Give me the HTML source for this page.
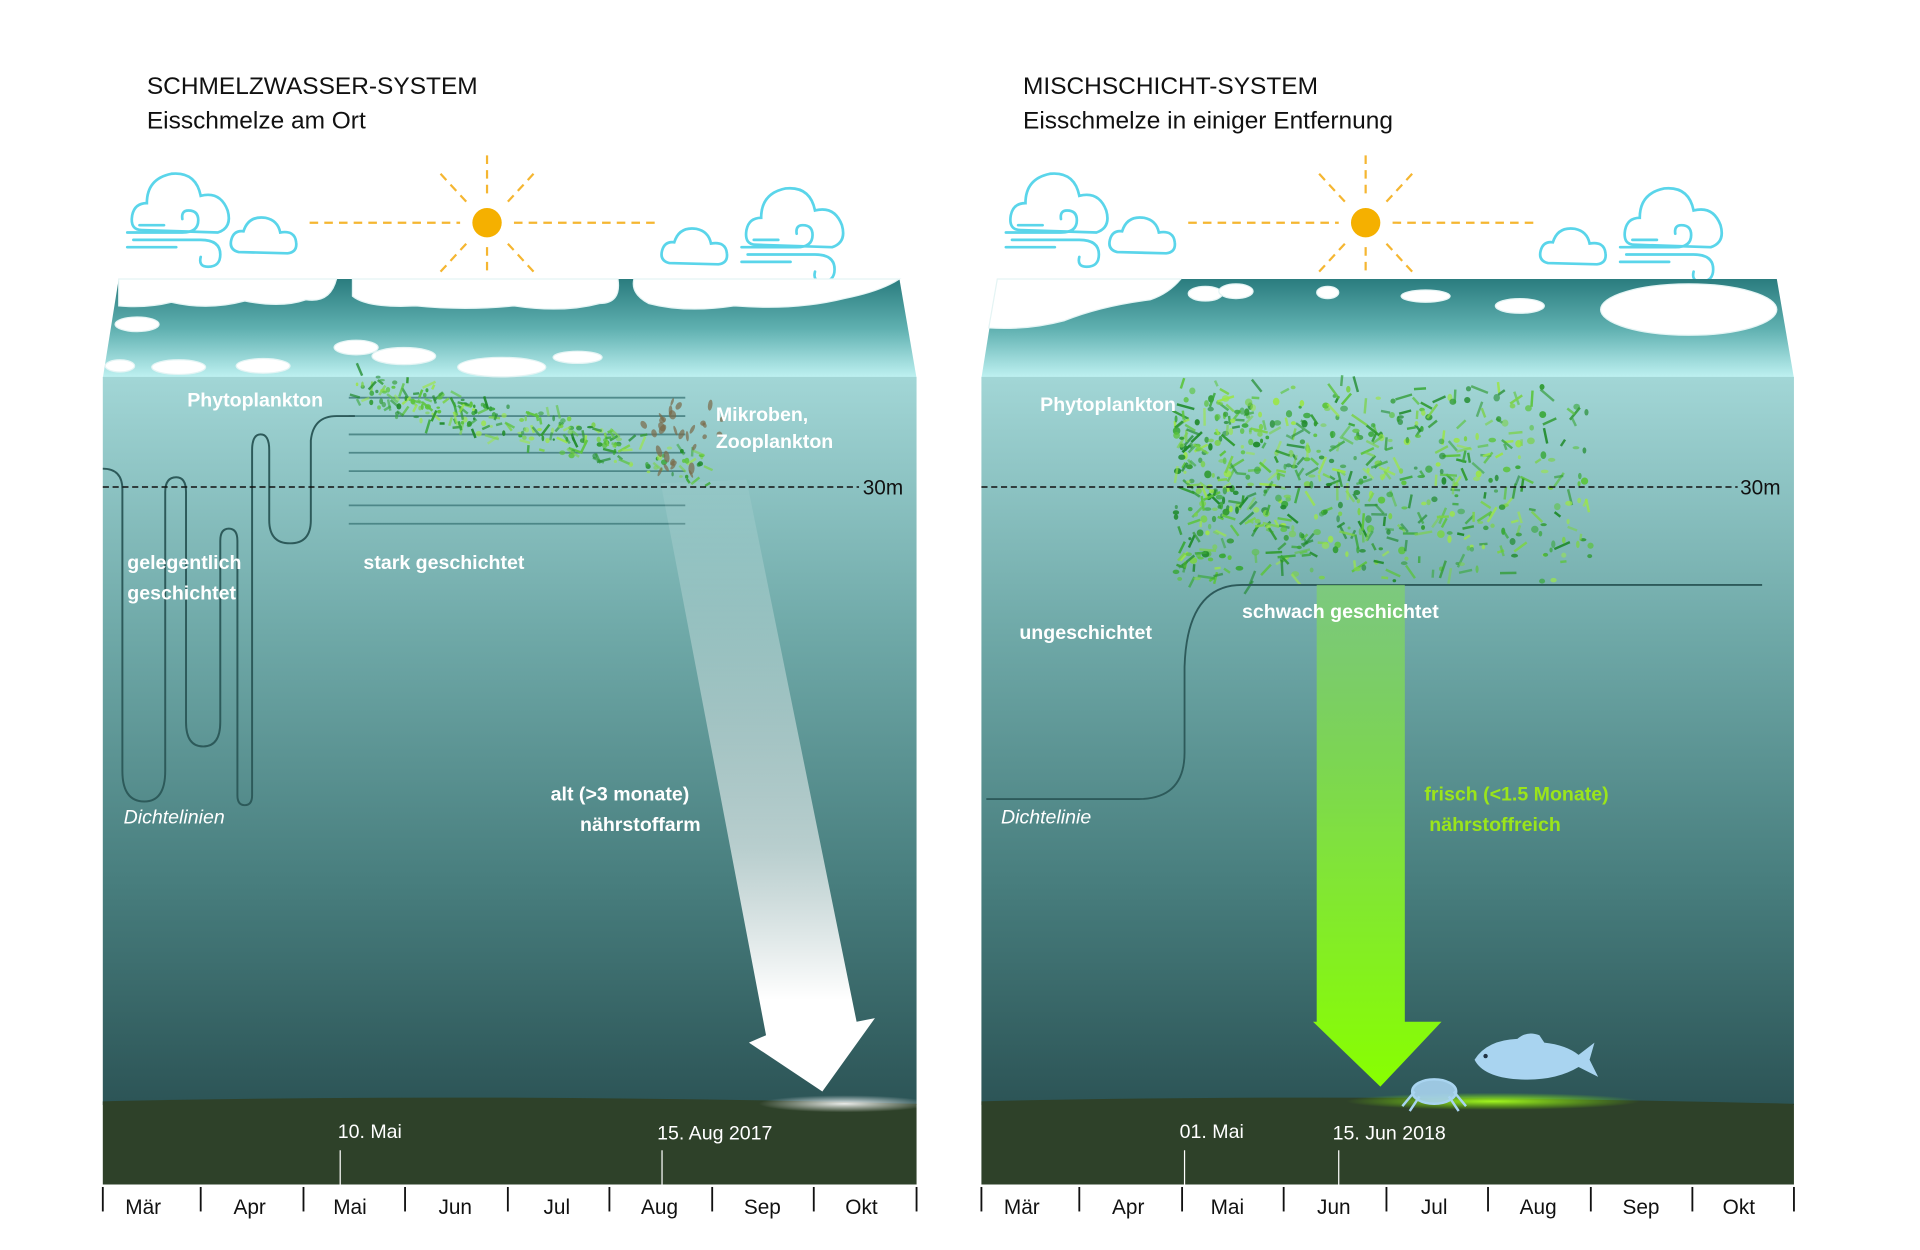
<!DOCTYPE html>
<html><head><meta charset="utf-8"><style>
html,body{margin:0;padding:0;background:#fff;}
svg{display:block;}
text{font-family:"Liberation Sans",sans-serif;}
.lb{fill:#fff;font-weight:bold;font-size:16px;}
.tt{fill:#111;font-size:20px;}
.mo{fill:#111;font-size:17px;text-anchor:middle;}
.dt{fill:#fff;font-size:16px;}
</style></head><body>
<svg width="1920" height="1250" viewBox="0 0 1569 1021.5" xmlns="http://www.w3.org/2000/svg">
<defs>
<linearGradient id="water" x1="0" y1="0" x2="0" y2="1">
<stop offset="0" stop-color="#a2d6d6"/><stop offset="0.35" stop-color="#6fa9a8"/><stop offset="0.7" stop-color="#477d7d"/><stop offset="1" stop-color="#2c5456"/></linearGradient>
<linearGradient id="surf" x1="0" y1="0" x2="0" y2="1">
<stop offset="0" stop-color="#2a7c7e"/><stop offset="0.5" stop-color="#5fb0b0"/><stop offset="1" stop-color="#c0f2f2"/></linearGradient>
<linearGradient id="warr" x1="0" y1="0" x2="0" y2="1">
<stop offset="0" stop-color="#fff" stop-opacity="0.05"/><stop offset="0.6" stop-color="#fff" stop-opacity="0.6"/><stop offset="0.85" stop-color="#fff" stop-opacity="1"/></linearGradient>
<linearGradient id="garr" x1="0" y1="0" x2="0" y2="1">
<stop offset="0" stop-color="#7fd36a" stop-opacity="0.7"/><stop offset="0.5" stop-color="#80e040"/><stop offset="1" stop-color="#88ff00"/></linearGradient>
<radialGradient id="wglow" cx="0.5" cy="0.5" r="0.5"><stop offset="0" stop-color="#fff" stop-opacity="0.9"/><stop offset="1" stop-color="#fff" stop-opacity="0"/></radialGradient>
<radialGradient id="gglow" cx="0.5" cy="0.5" r="0.5"><stop offset="0" stop-color="#a8ff20" stop-opacity="0.95"/><stop offset="1" stop-color="#88ff00" stop-opacity="0"/></radialGradient>
<g id="cloudA">
<path d="M10,50 Q0,50 2,38 Q4,28 14,28 Q14,8 34,4 Q54,2 58,22 Q74,18 80,34 Q84,48 72,52 Z" fill="#fff" stroke="#5ad5ea" stroke-width="2.2"/>
</g>
<g id="cloudB">
<path d="M8,32 Q0,30 2,22 Q4,14 12,15 Q16,2 30,4 Q40,6 42,16 Q54,14 55,24 Q56,32 48,33 Z" fill="#fff" stroke="#5ad5ea" stroke-width="2.2"/>
</g>
<g id="wind" fill="none" stroke="#5ad5ea" stroke-width="2.2" stroke-linecap="round">
<path d="M0,0 H45 Q58,0 58,-10 Q58,-18 50,-18 Q44,-18 45,-11"/>
<path d="M5,6 H60 Q76,6 76,18 Q76,28 66,28 Q58,28 60,20"/>
<path d="M0,12 H40"/><path d="M10,-6 H30"/>
</g>
<g id="sun">
<g stroke="#f5b631" stroke-width="1.8" stroke-dasharray="7,5">
<line x1="-145" y1="0" x2="-22" y2="0"/><line x1="22" y1="0" x2="140" y2="0"/>
<line x1="0" y1="-55" x2="0" y2="-20"/><line x1="0" y1="20" x2="0" y2="42"/>
<line x1="-38" y1="-40" x2="-15" y2="-15"/><line x1="38" y1="-40" x2="15" y2="-15"/>
<line x1="-38" y1="40" x2="-15" y2="15"/><line x1="38" y1="40" x2="15" y2="15"/>
</g>
<circle r="12" fill="#f5b000"/>
</g>
</defs>

<text class="tt" x="120" y="77">SCHMELZWASSER-SYSTEM</text>
<text class="tt" x="120" y="105">Eisschmelze am Ort</text>
<text class="tt" x="836" y="77">MISCHSCHICHT-SYSTEM</text>
<text class="tt" x="836" y="105">Eisschmelze in einiger Entfernung</text>

<use href="#sun" x="398" y="182"/>
<use href="#cloudA" x="106" y="138"/>
<use href="#wind" x="104" y="190"/>
<use href="#cloudB" x="187" y="174"/>
<use href="#cloudB" x="539" y="183"/>
<use href="#cloudA" x="608" y="150"/>
<use href="#wind" x="606" y="202"/>
<use href="#sun" x="1116" y="182"/>
<use href="#cloudA" x="824" y="138"/>
<use href="#wind" x="822" y="190"/>
<use href="#cloudB" x="905" y="174"/>
<use href="#cloudB" x="1257" y="183"/>
<use href="#cloudA" x="1326" y="150"/>
<use href="#wind" x="1324" y="202"/>

<!-- LEFT PANEL -->
<polygon points="97,228 735,228 749,309 84,309" fill="url(#surf)"/>
<rect x="84" y="308" width="665" height="595" fill="url(#water)"/>
<g fill="#fff" stroke="#e4f4f4" stroke-width="1">
<path d="M97,228 H275 Q270,248 250,245 Q230,252 200,246 Q170,254 140,247 Q120,252 97,250 Z"/>
<path d="M288,228 H505 Q508,248 490,248 Q460,256 420,250 Q380,254 340,250 Q300,252 288,242 Z"/>
<path d="M518,228 H735 Q720,238 690,244 Q650,254 600,250 Q560,256 530,248 Q515,240 518,228 Z"/>
<ellipse cx="112" cy="265" rx="18" ry="6"/><ellipse cx="98" cy="299" rx="12" ry="5"/>
<ellipse cx="146" cy="300" rx="22" ry="6"/><ellipse cx="215" cy="299" rx="22" ry="6"/>
<ellipse cx="291" cy="284" rx="18" ry="6"/><ellipse cx="330" cy="291" rx="26" ry="7"/>
<ellipse cx="410" cy="300" rx="36" ry="8"/><ellipse cx="472" cy="292" rx="20" ry="5"/>
</g>
<g stroke="#3f7a7b" stroke-width="1.5" opacity="0.8">
<line x1="285" y1="325" x2="560" y2="325"/><line x1="285" y1="340" x2="560" y2="340"/>
<line x1="285" y1="355" x2="560" y2="355"/><line x1="285" y1="370" x2="560" y2="370"/>
<line x1="285" y1="385" x2="560" y2="385"/><line x1="285" y1="413" x2="560" y2="413"/>
<line x1="285" y1="428" x2="560" y2="428"/>
</g>
<path d="M84,383 Q100,383 100,400 V630 Q100,655 118,655 Q135,655 135,630 V402 Q135,390 144,390 Q152,390 152,402 V590 Q152,610 166,610 Q180,610 180,590 V442 Q180,432 187,432 Q194,432 194,442 V650 Q194,658 200,658 Q206,658 206,650 V368 Q206,355 213,355 Q220,355 220,368 V425 Q220,444 237,444 Q254,444 254,425 V360 Q256,340 275,340 H290" fill="none" stroke="#2d5a5a" stroke-width="1.6"/>
<g id="plL"></g>
<polygon points="540,395 610,392 700,835 715,832 672,892 612,852 626,846" fill="url(#warr)"/>
<line x1="84" y1="398" x2="702" y2="398" stroke="#111" stroke-width="1.2" stroke-dasharray="5,3"/>
<text x="705" y="404" fill="#111" font-size="17">30m</text>
<text class="lb" x="153" y="332">Phytoplankton</text>
<text class="lb" x="585" y="344">Mikroben,</text>
<text class="lb" x="585" y="366">Zooplankton</text>
<text class="lb" x="104" y="465">gelegentlich</text>
<text class="lb" x="104" y="490">geschichtet</text>
<text class="lb" x="297" y="465">stark geschichtet</text>
<text x="101" y="673" fill="#fff" font-size="16" font-style="italic">Dichtelinien</text>
<text class="lb" x="450" y="654">alt (&gt;3 monate)</text>
<text class="lb" x="474" y="679">nährstoffarm</text>
<path d="M84,900 Q400,893 749,902 V968 H84 Z" fill="#2e4129"/>
<ellipse cx="690" cy="902" rx="70" ry="7" fill="url(#wglow)"/>
<line x1="278" y1="940" x2="278" y2="968" stroke="#fff" stroke-width="1"/>
<line x1="541" y1="940" x2="541" y2="968" stroke="#fff" stroke-width="1"/>
<text class="dt" x="276" y="930">10. Mai</text>
<text class="dt" x="537" y="931">15. Aug 2017</text>

<!-- RIGHT PANEL -->
<polygon points="815,228 1452,228 1466,309 802,309" fill="url(#surf)"/>
<rect x="802" y="308" width="664" height="595" fill="url(#water)"/>
<g fill="#fff" stroke="#e4f4f4" stroke-width="1">
<path d="M815,228 H965 Q955,240 940,245 Q900,250 870,262 Q840,270 808,268 Z"/>
<ellipse cx="985" cy="240" rx="14" ry="6"/><ellipse cx="1010" cy="238" rx="14" ry="6"/>
<ellipse cx="1085" cy="239" rx="9" ry="5"/><ellipse cx="1165" cy="242" rx="20" ry="5"/>
<ellipse cx="1242" cy="250" rx="20" ry="6"/><ellipse cx="1380" cy="253" rx="72" ry="21"/>
</g>
<g id="plR"></g>
<path d="M806,653 H930 Q968,653 968,615 V545 Q970,478 1015,478 H1440" fill="none" stroke="#2d5a5a" stroke-width="1.5"/>
<polygon points="1076,478 1148,478 1148,835 1178,835 1128,888 1073,835 1076,835" fill="url(#garr)"/>
<line x1="802" y1="398" x2="1420" y2="398" stroke="#111" stroke-width="1.2" stroke-dasharray="5,3"/>
<text x="1422" y="404" fill="#111" font-size="17">30m</text>
<text class="lb" x="850" y="336">Phytoplankton</text>
<text class="lb" x="1015" y="505">schwach geschichtet</text>
<text class="lb" x="833" y="522">ungeschichtet</text>
<text x="818" y="673" fill="#fff" font-size="16" font-style="italic">Dichtelinie</text>
<text class="lb" x="1164" y="654" style="fill:#9be51a">frisch (&lt;1.5 Monate)</text>
<text class="lb" x="1168" y="679" style="fill:#9be51a">nährstoffreich</text>
<path d="M802,900 Q1100,893 1466,902 V968 H802 Z" fill="#2e4129"/>
<ellipse cx="1220" cy="900" rx="120" ry="7" fill="url(#gglow)"/>
<path d="M1205,866 Q1215,850 1240,849 Q1248,842 1258,846 L1262,852 Q1280,854 1290,862 L1303,852 L1299,866 L1306,880 L1290,872 Q1270,884 1240,882 Q1212,880 1205,866 Z" fill="#a9d4f0"/>
<circle cx="1214" cy="863" r="1.8" fill="#234"/>
<g fill="#a9d4f0" stroke="#a9d4f0" stroke-width="2" fill-opacity="0.9">
<ellipse cx="1172" cy="892" rx="18" ry="10"/>
<path d="M1156,892 L1146,904 M1188,892 L1198,904 M1160,896 L1152,908 M1184,896 L1192,908" fill="none"/>
</g>
<line x1="968" y1="940" x2="968" y2="968" stroke="#fff" stroke-width="1"/>
<line x1="1094" y1="940" x2="1094" y2="968" stroke="#fff" stroke-width="1"/>
<text class="dt" x="964" y="930">01. Mai</text>
<text class="dt" x="1089" y="931">15. Jun 2018</text>

<g stroke="#111" stroke-width="1.5">
<line x1="84" y1="970" x2="84" y2="990"/><line x1="164" y1="970" x2="164" y2="990"/><line x1="248" y1="970" x2="248" y2="990"/><line x1="331" y1="970" x2="331" y2="990"/><line x1="415" y1="970" x2="415" y2="990"/><line x1="498" y1="970" x2="498" y2="990"/><line x1="582" y1="970" x2="582" y2="990"/><line x1="665" y1="970" x2="665" y2="990"/><line x1="749" y1="970" x2="749" y2="990"/>
<line x1="802" y1="970" x2="802" y2="990"/><line x1="882" y1="970" x2="882" y2="990"/><line x1="966" y1="970" x2="966" y2="990"/><line x1="1049" y1="970" x2="1049" y2="990"/><line x1="1133" y1="970" x2="1133" y2="990"/><line x1="1216" y1="970" x2="1216" y2="990"/><line x1="1300" y1="970" x2="1300" y2="990"/><line x1="1383" y1="970" x2="1383" y2="990"/><line x1="1466" y1="970" x2="1466" y2="990"/>
</g>
<text class="mo" x="117" y="992">Mär</text><text class="mo" x="204" y="992">Apr</text><text class="mo" x="286" y="992">Mai</text><text class="mo" x="372" y="992">Jun</text><text class="mo" x="455" y="992">Jul</text><text class="mo" x="539" y="992">Aug</text><text class="mo" x="623" y="992">Sep</text><text class="mo" x="704" y="992">Okt</text>
<text class="mo" x="835" y="992">Mär</text><text class="mo" x="922" y="992">Apr</text><text class="mo" x="1003" y="992">Mai</text><text class="mo" x="1090" y="992">Jun</text><text class="mo" x="1172" y="992">Jul</text><text class="mo" x="1257" y="992">Aug</text><text class="mo" x="1341" y="992">Sep</text><text class="mo" x="1421" y="992">Okt</text>
</svg>
<script>
(function(){
var s=12345;function r(){s=(s*1103515245+12345)%2147483648;return s/2147483648;}
var NS="http://www.w3.org/2000/svg";
var cols=["#2f9a2f","#3aa83a","#5cc43c","#9be54a","#1f8a2a","#7cd24a"];
function add(g,x,y,sc){sc=sc||1;var e;var t=r();
 if(t<0.5){e=document.createElementNS(NS,"ellipse");e.setAttribute("cx",x);e.setAttribute("cy",y);e.setAttribute("rx",(1.2+r()*2)*sc);e.setAttribute("ry",(1.2+r()*2)*sc);}
 else{e=document.createElementNS(NS,"rect");var w=2,h=(5+r()*10)*sc;e.setAttribute("x",x);e.setAttribute("y",y);e.setAttribute("width",w);e.setAttribute("height",h);e.setAttribute("transform","rotate("+(r()*360)+" "+x+" "+y+")");}
 e.setAttribute("fill",cols[Math.floor(r()*cols.length)]);e.setAttribute("opacity",0.55+r()*0.4);g.appendChild(e);}
var R=document.getElementById("plR");
for(var i=0;i<1300;i++){var x=960+r()*340,y=315+r()*160;var f=(x-960)/340;if(r()<f*0.7)continue;var dy=Math.abs(y-395)/80;if(r()<dy*dy*0.5)continue;add(R,x,y);}
var L=document.getElementById("plL");
for(var i=0;i<240;i++){var t=r();var x=290+t*290;var y=318+t*65+(r()-0.5)*30;add(L,x,y,0.8);}
for(var i=0;i<30;i++){var e=document.createElementNS(NS,"ellipse");e.setAttribute("cx",535+r()*50);e.setAttribute("cy",320+r()*75);e.setAttribute("rx",1+r()*2);e.setAttribute("ry",2+r()*3);e.setAttribute("fill","#7a6a48");e.setAttribute("opacity",0.7);e.setAttribute("transform","rotate("+(r()*90-45)+" 560 360)");L.appendChild(e);}
})();
</script>
</body></html>
